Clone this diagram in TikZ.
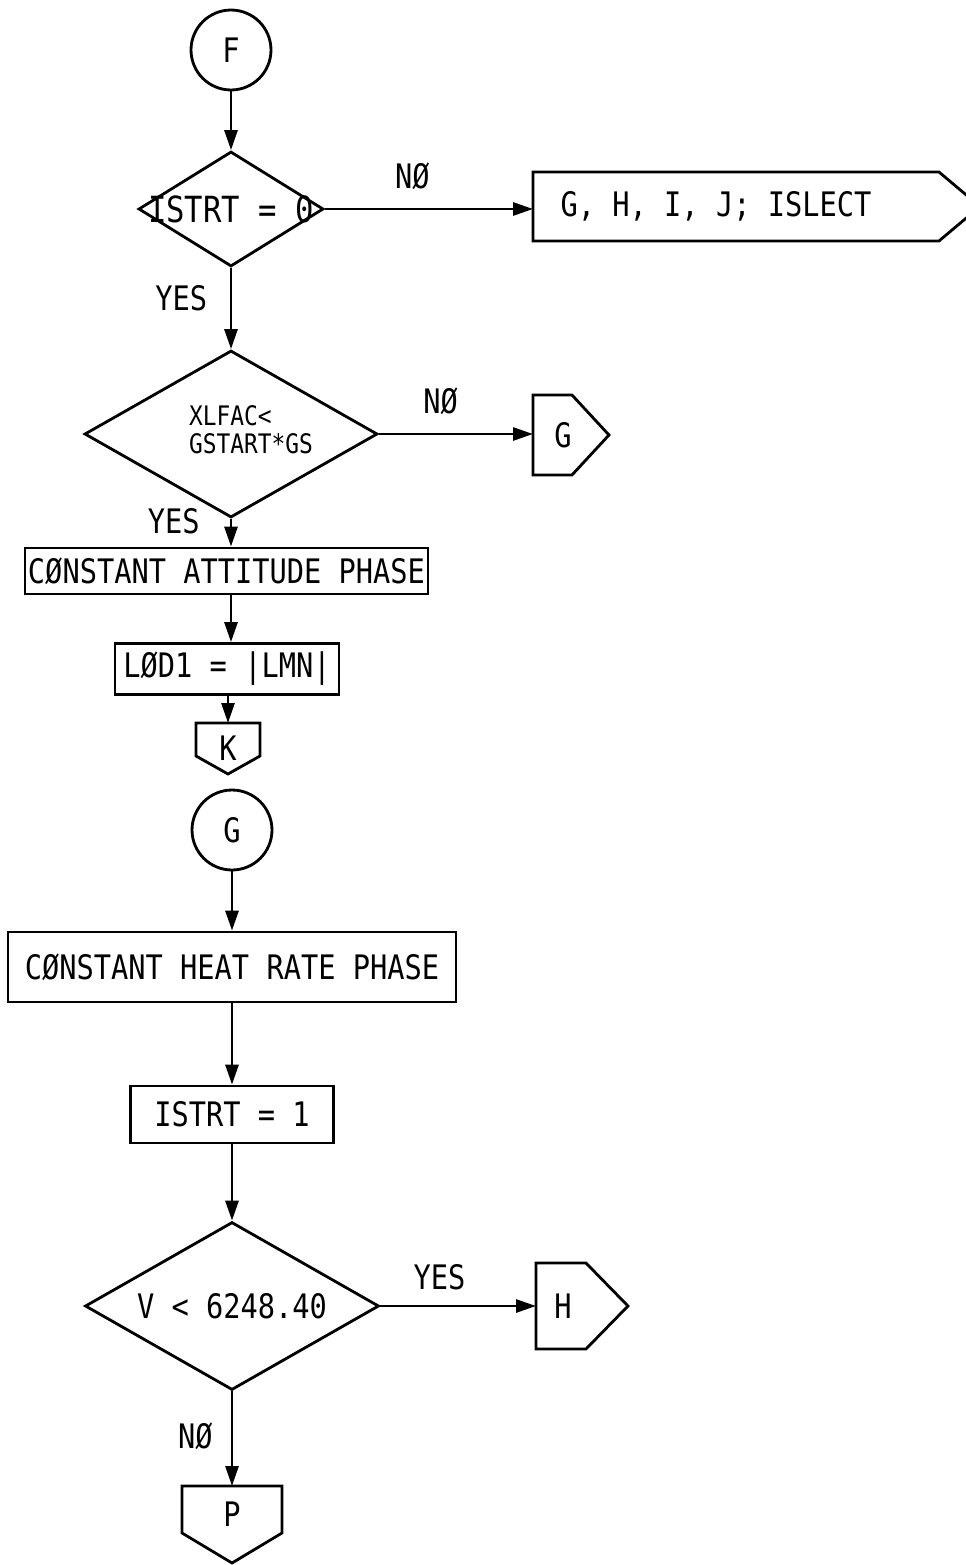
\documentclass[tikz,border=0pt]{standalone}
\usepackage{fontspec}
\setmainfont{DejaVu Sans Mono}[FakeStretch=0.85]
\usetikzlibrary{arrows.meta,calc,shapes.geometric}

% off-page connectors drawn round a plain node
\newcommand{\offright}[2]{\draw[line width=1.6pt] (#1.north west) -- ($(#1.north east)+(-#2,0)$) -- (#1.east) -- ($(#1.south east)+(-#2,0)$) -- (#1.south west) -- cycle;}
\newcommand{\offdown}[2]{\draw[line width=1.6pt] (#1.north west) -- (#1.north east) -- ($(#1.south east)+(0,-#2)$) -- (#1.south) -- ($(#1.south west)+(0,-#2)$) -- cycle;}

\tikzset{
  flow/.style={->, line width=1.6pt},
  box/.style={draw, rectangle, line width=1.6pt, inner sep=0pt},
  decision/.style={draw, diamond, line width=1.6pt, inner sep=0pt},
  conn/.style={draw, circle, line width=1.6pt, minimum size=1.6cm, inner sep=0pt},
  offpage/.style={rectangle, inner sep=0pt, outer sep=0pt},
  lbl/.style={inner sep=0pt},
}

\begin{document}
\begin{tikzpicture}[x=0.02cm, y=-0.02cm, >={Triangle[length=0.4cm,width=0.26cm]}, font=\fontsize{19.2}{23}\selectfont]
    \useasboundingbox (0,0) rectangle (966,1565);

    \node[conn] (F) at (231,50) {F};
    \node[decision, minimum width=3.7cm, minimum height=2.3cm] (dIS0) at (231,209) {\makebox[0pt]{\fontsize{20.5}{23}\selectfont ISTRT = 0}};
    \node[offpage, minimum width=8.94cm, minimum height=1.38cm] (cISL) at (756.5,206.5) {G, H, I, J; ISLECT\kern1.62cm};
    \offright{cISL}{41}

    \node[decision, minimum width=5.86cm, minimum height=3.34cm] (dXL) at (231,434)
        {\makebox[0pt]{\kern0.8cm\fontsize{15.3}{15.3}\selectfont\begin{tabular}{@{}l@{}}XLFAC<\\GSTART*GS\end{tabular}}};
    \node[offpage, minimum width=1.52cm, minimum height=1.6cm] (cG) at (571,435) {G\kern0.32cm};
    \offright{cG}{37}

    \node[box, minimum width=8.06cm, minimum height=0.92cm] (bAtt) at (226.5,571) {CØNSTANT ATTITUDE PHASE};
    \node[box, minimum width=4.48cm, minimum height=1.02cm] (bLOD) at (227,669) {LØD1 = |LMN|};
    \node[offpage, minimum width=1.28cm, minimum height=1.02cm] (cK) at (228,748.5) {K};
    \offdown{cK}{18}

    \draw[flow] (F) -- (dIS0.north);
    \draw[flow] (dIS0.east) -- node[lbl, above=0.35cm, pos=0.42] {NØ} (dIS0.east -| cISL.west);
    \draw[flow] (dIS0.south) -- node[lbl, left=0.45cm, pos=0.37] {YES} (dXL.north);
    \draw[flow] (dXL.east) -- node[lbl, above=0.36cm, pos=0.4] {NØ} (dXL.east -| cG.west);
    \draw[flow] (dXL.south) -- node[lbl, left=0.6cm, pos=0.1] {YES} (dXL.south |- bAtt.north);
    \draw[flow] (dXL.south |- bAtt.south) -- (dXL.south |- bLOD.north);
    \draw[flow] (cK.north |- bLOD.south) -- (cK.north);

    % lower part
    \node[conn] (G) at (232,830) {G};
    \node[box, minimum width=8.96cm, minimum height=1.4cm] (bHeat) at (232,967) {CØNSTANT HEAT RATE PHASE};
    \node[box, minimum width=4.06cm, minimum height=1.14cm] (bIS1) at (232,1114.5) {ISTRT = 1};
    \node[decision, minimum width=5.88cm, minimum height=3.36cm] (dV) at (232,1306) {\makebox[0pt]{V < 6248.40}};
    \node[offpage, minimum width=1.84cm, minimum height=1.72cm] (cH) at (582,1306) {H\kern0.76cm};
    \offright{cH}{42}
    \node[offpage, minimum width=2cm, minimum height=1.54cm] (cP) at (232,1524.5) {\raisebox{0.4cm}{P}};
    \offdown{cP}{30}

    \draw[flow] (G) -- (bHeat);
    \draw[flow] (bHeat) -- (bIS1);
    \draw[flow] (bIS1) -- (dV.north);
    \draw[flow] (dV.east) -- node[lbl, above=0.3cm, pos=0.38] {YES} (cH.west);
    \draw[flow] (dV.south) -- node[lbl, left=0.36cm, pos=0.47] {NØ} (cP.north);
\end{tikzpicture}
\end{document}
